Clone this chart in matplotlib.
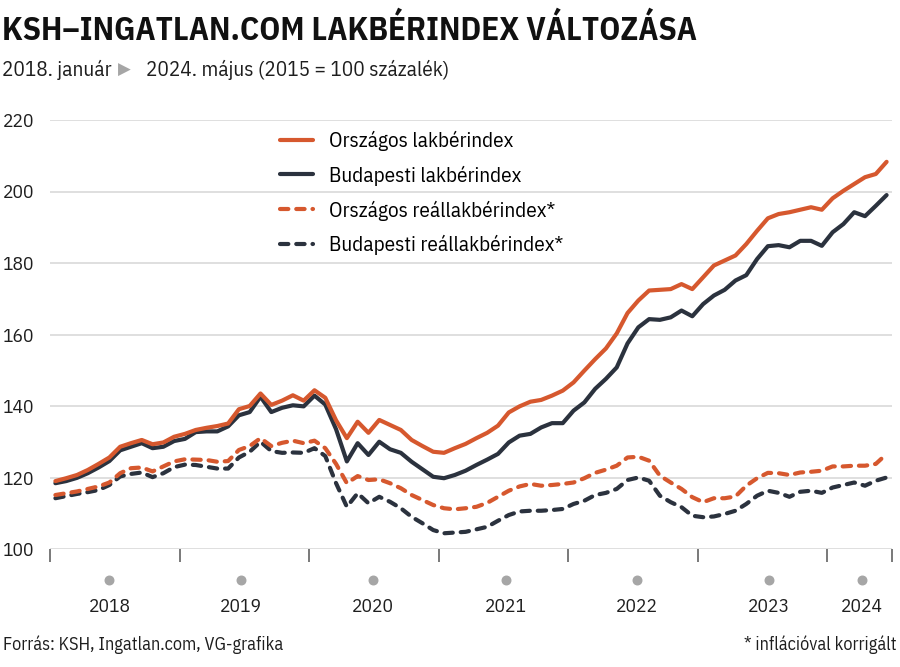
import numpy as np
import matplotlib
matplotlib.use("Agg")
import matplotlib.pyplot as plt

# havi adatok, 2018 jan -> 2024 (2015 = 100)
orszagos = [119.0, 119.8, 120.7, 122.1, 123.8, 125.6, 128.6, 129.6, 130.5, 129.3, 129.8, 131.4,
            132.2, 133.3, 133.9, 134.4, 135.1, 139.1, 140.0, 143.5, 140.3, 141.5, 143.0, 141.5,
            144.4, 142.3, 136.0, 131.0, 135.6, 132.5, 136.1, 134.7, 133.3, 130.5, 128.8, 127.2,
            126.9, 128.2, 129.4, 131.0, 132.5, 134.5, 138.2, 139.9, 141.2, 141.7, 142.9, 144.3,
            146.6, 149.9, 153.1, 156.1, 160.3, 166.0, 169.5, 172.3, 172.5, 172.7, 174.1, 172.7,
            176.0, 179.3, 180.7, 182.1, 185.3, 189.0, 192.5, 193.7, 194.2, 194.9, 195.6, 194.9,
            198.1, 200.2, 202.1, 204.0, 204.9, 208.3]
budapest = [118.4, 119.0, 119.9, 121.2, 122.8, 124.6, 127.6, 128.6, 129.6, 128.2, 128.6, 130.2,
            130.8, 132.7, 132.9, 132.9, 134.3, 137.4, 138.3, 142.6, 138.3, 139.5, 140.2, 139.9,
            142.9, 140.4, 133.5, 124.5, 129.6, 126.3, 130.0, 127.9, 126.9, 124.4, 122.3, 120.2,
            119.8, 120.7, 121.9, 123.5, 125.0, 126.6, 129.8, 131.7, 132.2, 134.0, 135.2, 135.2,
            138.7, 141.0, 144.8, 147.6, 150.8, 157.5, 162.0, 164.3, 164.1, 164.8, 166.7, 165.1,
            168.5, 170.9, 172.5, 175.1, 176.6, 181.1, 184.7, 185.0, 184.4, 186.2, 186.2, 184.8,
            188.6, 190.9, 194.2, 193.1, 196.0, 199.0]
orszagos_real = [115.1, 115.6, 116.1, 116.8, 117.5, 118.6, 121.2, 122.6, 122.8, 121.7, 123.1, 124.5,
                 125.1, 125.0, 124.9, 124.4, 124.6, 127.7, 128.8, 131.0, 128.8, 129.7, 130.3, 129.6,
                 130.3, 128.2, 123.8, 118.4, 120.4, 119.3, 119.5, 118.4, 117.0, 115.1, 113.7, 112.3,
                 111.4, 111.1, 111.4, 111.8, 112.9, 114.6, 116.3, 117.5, 118.2, 117.7, 117.9, 118.2,
                 118.6, 119.8, 121.3, 122.2, 123.3, 125.6, 125.8, 124.7, 120.5, 118.6, 116.8, 114.5,
                 113.1, 114.2, 114.2, 114.7, 117.7, 119.8, 121.3, 121.2, 120.7, 121.4, 121.6, 121.9,
                 123.1, 123.1, 123.3, 123.3, 123.8, 126.6]
budapest_real = [114.2, 114.8, 115.4, 115.9, 116.5, 117.9, 120.3, 121.0, 121.4, 120.1, 121.2, 122.9,
                 123.6, 123.5, 123.0, 122.5, 122.5, 125.6, 127.2, 130.0, 127.4, 126.9, 127.0, 126.9,
                 128.2, 126.0, 118.4, 111.8, 115.6, 112.8, 114.6, 113.2, 111.4, 109.0, 107.2, 105.3,
                 104.4, 104.6, 104.8, 105.5, 106.2, 107.9, 109.5, 110.5, 110.7, 110.7, 110.9, 111.2,
                 112.6, 113.5, 115.1, 115.7, 116.8, 119.3, 120.0, 119.1, 114.9, 113.1, 111.7, 109.3,
                 108.9, 109.1, 109.8, 110.7, 112.6, 114.9, 116.3, 115.7, 114.6, 116.0, 116.3, 115.7,
                 117.2, 117.9, 118.6, 117.7, 119.1, 120.0]

years = ['2018', '2019', '2020', '2021', '2022', '2023', '2024']
year_label_pos = [5.5, 17.7, 29.9, 42.2, 54.4, 66.6, 75.2]
yticks = [100, 120, 140, 160, 180, 200, 220]

ORANGE = '#D6582E'
DARK = '#2B323E'
TXT = '#1E1E1E'

plt.rcParams['font.family'] = ['IBM Plex Sans Condensed', 'DejaVu Sans']

fig = plt.figure(figsize=(9, 6.67), dpi=100)
W, H = 900, 667
renderer = fig.canvas.get_renderer()


def fit_size(s, target_px, weight='normal'):
    # font size that makes string s about target_px wide
    t = fig.text(0, 0, s, fontsize=10, fontweight=weight)
    w = t.get_window_extent(renderer).width
    t.remove()
    return 10 * target_px / w


tick_fs = fit_size('2018', 42)
leg_fs = fit_size('Országos lakbérindex', 184)
sub_fs = fit_size('2024. május (2015 = 100 százalék)', 302)
title_fs = fit_size('KSH–INGATLAN.COM LAKBÉRINDEX VÁLTOZÁSA', 698, 'bold')
foot_fs = fit_size('Forrás: KSH, Ingatlan.com, VG-grafika', 278)

ax = fig.add_axes([50 / W, (H - 549) / H, 842 / W, 429 / H])

x = np.arange(len(orszagos)) + 0.5
ax.plot(x, budapest, color=DARK, lw=3, solid_capstyle='round', solid_joinstyle='round',
        label='Budapesti lakbérindex', zorder=3)
ax.plot(x, orszagos, color=ORANGE, lw=3, solid_capstyle='round', solid_joinstyle='round',
        label='Országos lakbérindex', zorder=4)
ax.plot(x, budapest_real, color=DARK, lw=3, ls=(0, (2.0, 1.9)), dash_capstyle='round',
        label='Budapesti reállakbérindex*', zorder=3)
ax.plot(x, orszagos_real, color=ORANGE, lw=3, ls=(0, (2.0, 1.9)), dash_capstyle='round',
        label='Országos reállakbérindex*', zorder=4)

ax.set_xlim(0, 78)
ax.set_ylim(100, 220)
for s in ax.spines.values():
    s.set_visible(False)
ax.set_yticks(yticks)
ax.set_yticklabels([str(v) for v in yticks], fontsize=tick_fs, color=TXT)
for lab in ax.get_yticklabels():
    lab.set_horizontalalignment('left')
ax.tick_params(axis='y', length=0, pad=34)
ax.yaxis.grid(True, color='#DCDCDC', lw=1.3)
ax.set_axisbelow(True)

ax.set_xticks([0, 12, 24, 36, 48, 60, 72, 78])
ax.tick_params(axis='x', length=9, width=1.1, color='#555555', labelbottom=False)

trans = ax.get_xaxis_transform()
ax.scatter(year_label_pos, [-31 / 429] * len(years), s=38, color='#A6A6A6',
           transform=trans, clip_on=False, zorder=5)
for pos, yr in zip(year_label_pos, years):
    ax.text(pos, -58 / 429, yr, transform=trans, ha='center', va='center',
            fontsize=tick_fs, color=TXT)

handles, labels = ax.get_legend_handles_labels()
order = [1, 0, 3, 2]
px = leg_fs * 100 / 72
ax.legend([handles[i] for i in order], [labels[i] for i in order],
          loc='upper left', bbox_to_anchor=(280 / W, 1 - 131 / H), bbox_transform=fig.transFigure,
          frameon=False, fontsize=leg_fs, handlelength=33 / px, handletextpad=16 / px,
          labelspacing=0.68, borderpad=0, borderaxespad=0)

fig.text(2 / W, 1 - 31 / H, 'KSH–INGATLAN.COM LAKBÉRINDEX VÁLTOZÁSA', fontsize=title_fs,
         fontweight='bold', va='center', ha='left', color='#111111')
fig.text(2 / W, 1 - 70 / H, '2018. január', fontsize=sub_fs, va='center', ha='left', color=TXT)
fig.text(124 / W, 1 - 70 / H, '▶', fontsize=12, va='center', ha='center', color='#A6A6A6',
         family='DejaVu Sans')
fig.text(146 / W, 1 - 70 / H, '2024. május (2015 = 100 százalék)', fontsize=sub_fs, va='center',
         ha='left', color=TXT)

fig.text(3 / W, 1 - 645 / H, 'Forrás: KSH, Ingatlan.com, VG-grafika', fontsize=foot_fs,
         va='center', ha='left', color=TXT)
fig.text(897 / W, 1 - 645 / H, '* inflációval korrigált', fontsize=foot_fs,
         va='center', ha='right', color=TXT)

fig.savefig('out.png', dpi=100)
